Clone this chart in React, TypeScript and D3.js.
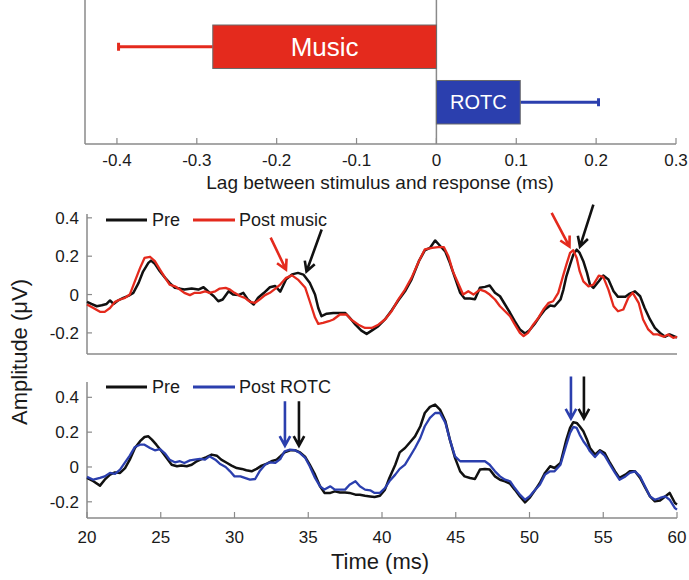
import React from 'react';
import * as d3 from 'd3';

// ---- top panel: lag between stimulus and response ----
const lagGroups = ['Music', 'ROTC'];
const lagMeans = [-0.28, 0.105];
const lagErrEnds = [-0.398, 0.203];
const lagTicks = [-0.4, -0.3, -0.2, -0.1, 0, 0.1, 0.2, 0.3];
const lagTickLabels = ['-0.4', '-0.3', '-0.2', '-0.1', '0', '0.1', '0.2', '0.3'];

// ---- waveform panels, [time ms, amplitude uV] ----
const musicPre: [number, number][] = [
  [20, -0.038], [20.3, -0.049], [20.66, -0.061], [21.0, -0.056], [21.33, -0.049], [21.56, -0.031],
  [21.8, -0.049], [22.1, -0.031], [22.46, -0.017], [22.8, -0.007], [23.14, 0.009], [23.5, 0.061],
  [23.8, 0.12], [24.16, 0.165], [24.34, 0.177], [24.6, 0.16], [24.95, 0.12], [25.3, 0.087],
  [25.6, 0.061], [25.96, 0.035], [26.3, 0.031], [26.6, 0.026], [27.1, 0.031], [27.55, 0.026],
  [27.9, 0.038], [28.2, 0.017], [28.6, -0.009], [28.9, -0.035], [29.2, -0.026], [29.6, 0.017],
  [29.9, 0], [30.26, -0.003], [30.6, 0.009], [30.9, -0.026], [31.3, -0.052], [31.6, -0.017],
  [32.0, 0.009], [32.4, 0.038], [32.75, 0.045], [33.1, 0.015], [33.5, 0.08], [33.9, 0.105],
  [34.3, 0.113], [34.67, 0.104], [35.1, 0.061], [35.46, 0], [35.68, -0.07], [35.9, -0.113],
  [36.25, -0.1], [36.7, -0.096], [37.15, -0.096], [37.5, -0.096], [37.8, -0.12], [38.2, -0.157],
  [38.6, -0.188], [38.96, -0.205], [39.3, -0.188], [39.75, -0.165], [40.2, -0.13], [40.65, -0.083],
  [41.1, -0.031], [41.56, 0.017], [42.0, 0.078], [42.5, 0.174], [42.9, 0.23], [43.25, 0.243],
  [43.6, 0.282], [43.9, 0.257], [44.3, 0.223], [44.6, 0.165], [44.95, 0.087], [45.3, 0.009],
  [45.6, -0.021], [45.97, -0.021], [46.3, -0.025], [46.64, 0.035], [46.98, 0.04], [47.3, 0.047],
  [47.66, 0.009], [48.0, -0.009], [48.34, -0.052], [48.68, -0.095], [49.0, -0.139], [49.35, -0.182],
  [49.7, -0.203], [50.0, -0.186], [50.4, -0.148], [50.7, -0.113], [51.05, -0.078], [51.4, -0.057],
  [51.7, -0.061], [52.1, -0.026], [52.3, 0.026], [52.5, 0.095], [52.75, 0.156], [52.97, 0.208],
  [53.2, 0.234], [53.4, 0.217], [53.65, 0.174], [53.9, 0.113], [54.1, 0.052], [54.33, 0.035],
  [54.7, 0.069], [55.0, 0.099], [55.35, 0.078], [55.7, 0.017], [56.0, -0.012], [56.5, -0.012],
  [56.8, 0.005], [57.15, 0.017], [57.5, -0.009], [57.8, -0.069], [58.17, -0.13], [58.5, -0.174],
  [58.85, -0.2], [59.2, -0.22], [59.5, -0.208], [59.86, -0.22], [60, -0.225],
];

const musicPost: [number, number][] = [
  [20, -0.052], [20.43, -0.07], [20.88, -0.09], [21.2, -0.09], [21.56, -0.07], [21.9, -0.038],
  [22.24, -0.026], [22.58, -0.017], [22.9, 0], [23.25, 0.07], [23.6, 0.139], [23.9, 0.191],
  [24.27, 0.197], [24.6, 0.174], [24.95, 0.13], [25.3, 0.087], [25.6, 0.052], [25.96, 0.043],
  [26.3, 0.026], [26.6, 0.009], [26.98, -0.003], [27.3, 0.009], [27.66, 0.009], [28.0, 0.017],
  [28.3, 0.009], [28.7, 0.017], [29.0, 0.031], [29.4, 0.035], [29.7, 0.026], [30.0, 0.009],
  [30.4, -0.009], [30.7, -0.017], [31.05, -0.038], [31.4, -0.043], [31.7, -0.026], [32.07, -0.003],
  [32.4, 0.009], [32.75, 0.03], [33.1, 0.052], [33.5, 0.087], [33.9, 0.1], [34.3, 0.078],
  [34.8, 0.035], [35.1, -0.035], [35.46, -0.12], [35.68, -0.153], [36.0, -0.148], [36.4, -0.139],
  [36.7, -0.13], [37.15, -0.104], [37.6, -0.104], [37.9, -0.13], [38.4, -0.157], [38.85, -0.174],
  [39.3, -0.174], [39.75, -0.157], [40.2, -0.13], [40.65, -0.087], [41.1, -0.026], [41.56, 0.026],
  [42.0, 0.087], [42.5, 0.174], [42.9, 0.235], [43.4, 0.243], [43.8, 0.247], [44.2, 0.247],
  [44.5, 0.2], [44.8, 0.122], [45.2, 0.052], [45.5, 0], [45.85, 0.017], [46.2, 0],
  [46.64, 0.026], [46.98, 0.017], [47.3, 0], [47.66, -0.026], [48.0, -0.061], [48.34, -0.087],
  [48.68, -0.113], [49.0, -0.156], [49.35, -0.2], [49.6, -0.217], [49.9, -0.2], [50.26, -0.156],
  [50.6, -0.122], [50.94, -0.078], [51.3, -0.043], [51.6, -0.035], [51.95, 0.009], [52.3, 0.104],
  [52.5, 0.156], [52.75, 0.217], [52.97, 0.231], [53.2, 0.191], [53.4, 0.122], [53.65, 0.069],
  [54.0, 0.043], [54.33, 0.052], [54.7, 0.099], [55.0, 0.092], [55.35, 0.026], [55.7, -0.061],
  [56.0, -0.087], [56.36, -0.078], [56.7, -0.017], [57.0, 0.009], [57.4, -0.043], [57.7, -0.13],
  [58.05, -0.182], [58.4, -0.208], [58.7, -0.208], [59.1, -0.22], [59.4, -0.208], [59.75, -0.226],
  [60, -0.22],
];

const rotcPre: [number, number][] = [
  [20, -0.063], [20.43, -0.082], [20.88, -0.107], [21.2, -0.073], [21.56, -0.044], [21.9, -0.031],
  [22.24, -0.034], [22.58, -0.006], [22.9, 0.042], [23.25, 0.109], [23.6, 0.148], [23.9, 0.172],
  [24.16, 0.176], [24.4, 0.157], [24.7, 0.128], [25.06, 0.09], [25.4, 0.052], [25.74, 0.013],
  [26.1, 0.004], [26.4, 0.008], [26.76, 0.004], [27.1, 0.013], [27.44, 0.033], [27.8, 0.046],
  [28.1, 0.057], [28.45, 0.071], [28.8, 0.065], [29.1, 0.042], [29.5, 0.023], [29.8, 0.008],
  [30.15, -0.006], [30.5, -0.011], [30.8, -0.019], [31.16, -0.025], [31.5, -0.011], [31.84, 0.008],
  [32.2, 0.019], [32.5, 0.033], [32.86, 0.042], [33.1, 0.06], [33.4, 0.084], [33.76, 0.096],
  [34.1, 0.096], [34.44, 0.084], [34.8, 0.057], [35.1, 0.013], [35.46, -0.044], [35.8, -0.111],
  [36.1, -0.149], [36.5, -0.149], [36.8, -0.14], [37.15, -0.146], [37.5, -0.146], [37.8, -0.149],
  [38.2, -0.159], [38.5, -0.159], [38.85, -0.165], [39.2, -0.169], [39.5, -0.172], [39.86, -0.165],
  [40.2, -0.13], [40.5, -0.063], [40.9, 0.013], [41.2, 0.084], [41.56, 0.109], [41.9, 0.142],
  [42.24, 0.176], [42.6, 0.234], [42.9, 0.31], [43.25, 0.345], [43.6, 0.358], [43.93, 0.33],
  [44.3, 0.262], [44.6, 0.157], [44.95, 0.052], [45.3, -0.025], [45.6, -0.054], [45.97, -0.063],
  [46.3, -0.069], [46.64, -0.015], [46.98, -0.011], [47.3, -0.015], [47.66, -0.054], [48.0, -0.073],
  [48.34, -0.082], [48.68, -0.096], [49.0, -0.13], [49.35, -0.169], [49.7, -0.203], [50.0, -0.178],
  [50.4, -0.13], [50.7, -0.092], [51.05, -0.034], [51.4, 0.004], [51.7, -0.006], [52.1, 0.023],
  [52.3, 0.09], [52.5, 0.157], [52.75, 0.224], [52.97, 0.257], [53.2, 0.253], [53.4, 0.234],
  [53.65, 0.205], [53.9, 0.157], [54.1, 0.109], [54.44, 0.071], [54.78, 0.096], [55.1, 0.08],
  [55.46, 0.023], [55.8, -0.025], [56.1, -0.063], [56.5, -0.044], [56.8, -0.025], [57.15, -0.025],
  [57.5, -0.063], [57.8, -0.111], [58.17, -0.169], [58.5, -0.197], [58.85, -0.192], [59.2, -0.169],
  [59.5, -0.149], [59.86, -0.207], [60, -0.215],
];

const rotcPost: [number, number][] = [
  [20, -0.057], [20.43, -0.073], [20.88, -0.063], [21.2, -0.054], [21.56, -0.034], [21.9, -0.04],
  [22.24, -0.015], [22.58, 0.027], [22.9, 0.065], [23.25, 0.115], [23.6, 0.128], [23.9, 0.128],
  [24.27, 0.109], [24.6, 0.096], [24.95, 0.103], [25.3, 0.077], [25.6, 0.042], [25.96, 0.027],
  [26.3, 0.033], [26.6, 0.023], [26.98, 0.038], [27.3, 0.042], [27.66, 0.046], [28.0, 0.042],
  [28.3, 0.061], [28.7, 0.042], [29.0, 0.019], [29.4, 0], [29.7, -0.025], [30.0, -0.054],
  [30.4, -0.054], [30.7, -0.063], [31.05, -0.073], [31.4, -0.069], [31.7, -0.025], [32.07, 0.013],
  [32.4, 0.027], [32.75, 0.023], [33.1, 0.045], [33.4, 0.09], [33.76, 0.1], [34.1, 0.096],
  [34.44, 0.08], [34.8, 0.052], [35.1, 0.004], [35.46, -0.063], [35.8, -0.111], [36.1, -0.13],
  [36.5, -0.111], [36.8, -0.13], [37.15, -0.13], [37.5, -0.13], [37.8, -0.102], [38.2, -0.082],
  [38.5, -0.111], [38.85, -0.13], [39.2, -0.134], [39.5, -0.149], [39.86, -0.149], [40.2, -0.121],
  [40.5, -0.082], [40.9, -0.044], [41.2, -0.011], [41.56, 0.013], [41.9, 0.061], [42.24, 0.109],
  [42.6, 0.167], [42.9, 0.234], [43.25, 0.282], [43.6, 0.31], [43.93, 0.31], [44.3, 0.253],
  [44.6, 0.157], [44.95, 0.061], [45.3, 0.033], [45.6, 0.033], [45.97, 0.033], [46.3, 0.033],
  [46.64, 0.033], [46.98, 0.033], [47.3, 0.013], [47.66, -0.025], [48.0, -0.054], [48.34, -0.073],
  [48.68, -0.082], [49.0, -0.121], [49.35, -0.159], [49.7, -0.188], [50.0, -0.169], [50.4, -0.13],
  [50.7, -0.102], [51.05, -0.044], [51.4, -0.025], [51.7, -0.025], [52.1, 0.013], [52.3, 0.071],
  [52.5, 0.128], [52.75, 0.195], [52.97, 0.23], [53.2, 0.224], [53.4, 0.186], [53.65, 0.148],
  [53.9, 0.119], [54.1, 0.09], [54.44, 0.057], [54.78, 0.09], [55.1, 0.065], [55.46, 0.013],
  [55.8, -0.034], [56.1, -0.073], [56.5, -0.054], [56.8, -0.034], [57.15, -0.025], [57.5, -0.054],
  [57.8, -0.107], [58.17, -0.169], [58.5, -0.188], [58.85, -0.178], [59.2, -0.169], [59.5, -0.188],
  [59.86, -0.236], [60, -0.245],
];

const ampTicks = [0.4, 0.2, 0, -0.2];
const ampTickLabels = ['0.4', '0.2', '0', '-0.2'];
const timeTicks = [20, 25, 30, 35, 40, 45, 50, 55, 60];

// arrows in data units: [tailT, tailV, tipT, tipV, colour]
const musicArrows: [number, number, number, number, string][] = [
  [32.45, 0.297, 33.49, 0.13, 'red'],
  [35.91, 0.339, 34.88, 0.12, 'black'],
  [51.5, 0.426, 52.71, 0.25, 'red'],
  [54.33, 0.469, 53.42, 0.25, 'black'],
];
const rotcArrows: [number, number, number, number, string][] = [
  [33.42, 0.377, 33.42, 0.122, 'blue'],
  [34.37, 0.377, 34.37, 0.122, 'black'],
  [52.81, 0.519, 52.81, 0.278, 'blue'],
  [53.69, 0.519, 53.69, 0.278, 'black'],
];

const COLORS: Record<string, string> = {
  red: '#e42a1d',
  blue: '#2b3fae',
  black: '#111111',
};
const AXIS = '#8a8a8a';
const FONT = '"Liberation Sans", Arial, sans-serif';

function Arrow({ x1, y1, x2, y2, color }: { x1: number; y1: number; x2: number; y2: number; color: string }) {
  const a = Math.atan2(y2 - y1, x2 - x1);
  const len = 11;
  const s = 0.5;
  const hx1 = x2 - len * Math.cos(a - s);
  const hy1 = y2 - len * Math.sin(a - s);
  const hx2 = x2 - len * Math.cos(a + s);
  const hy2 = y2 - len * Math.sin(a + s);
  return (
    <path
      d={`M${x1},${y1}L${x2},${y2}M${hx1},${hy1}L${x2},${y2}L${hx2},${hy2}`}
      fill="none"
      stroke={color}
      strokeWidth={2.6}
    />
  );
}

function LagChart() {
  const x = d3.scaleLinear().domain([-0.44, 0.3]).range([85, 676]);
  const y = d3.scaleBand().domain(lagGroups).range([25, 124]).paddingInner(0.216).paddingOuter(0);
  const axisY = 144;
  const fills = [COLORS.red, COLORS.blue];
  const labelSizes = [26, 20];
  return (
    <g>
      <line x1={85} x2={85} y1={0} y2={axisY} stroke={AXIS} strokeWidth={1.5} />
      <line x1={x(0)} x2={x(0)} y1={0} y2={axisY} stroke={AXIS} strokeWidth={1.5} />
      {lagGroups.map((g, i) => {
        const y0 = y(g)!;
        const bw = y.bandwidth();
        const xa = Math.min(x(0), x(lagMeans[i]));
        const xb = Math.max(x(0), x(lagMeans[i]));
        const cy = y0 + bw / 2;
        const xe = x(lagErrEnds[i]);
        return (
          <g key={g}>
            <line x1={x(lagMeans[i])} x2={xe} y1={cy} y2={cy} stroke={fills[i]} strokeWidth={3} />
            <line x1={xe} x2={xe} y1={cy - 4} y2={cy + 4} stroke={fills[i]} strokeWidth={3} />
            <rect x={xa} y={y0} width={xb - xa} height={bw} fill={fills[i]} stroke="#6a6a6a" strokeWidth={1} />
            <text
              x={(xa + xb) / 2}
              y={cy}
              dy="0.36em"
              textAnchor="middle"
              fill="#ffffff"
              fontSize={labelSizes[i]}
            >
              {g}
            </text>
          </g>
        );
      })}
      <line x1={85} x2={676} y1={axisY} y2={axisY} stroke={AXIS} strokeWidth={1.5} />
      {lagTicks.map((t, i) => (
        <g key={t}>
          <line x1={x(t)} x2={x(t)} y1={axisY} y2={axisY - 6} stroke={AXIS} strokeWidth={1.2} />
          <text x={x(t)} y={166} textAnchor="middle" fontSize={17} fill="#1a1a1a">
            {lagTickLabels[i]}
          </text>
        </g>
      ))}
      <text x={380} y={189} textAnchor="middle" fontSize={19} fill="#1a1a1a">
        Lag between stimulus and response (ms)
      </text>
    </g>
  );
}

interface PanelProps {
  top: number;
  bottom: number;
  yDomain: [number, number];
  pre: [number, number][];
  post: [number, number][];
  postColor: string;
  postLabel: string;
  legendY: number;
  arrows: [number, number, number, number, string][];
  showTime: boolean;
}

function WavePanel(p: PanelProps) {
  const x = d3.scaleLinear().domain([20, 60]).range([87, 677]);
  const y = d3.scaleLinear().domain(p.yDomain).range([p.bottom, p.top]);
  const line = d3
    .line<[number, number]>()
    .x((d) => x(d[0]))
    .y((d) => y(d[1]))
    .curve(d3.curveLinear);
  return (
    <g>
      <line x1={87} x2={87} y1={p.top} y2={p.bottom} stroke={AXIS} strokeWidth={1.5} />
      <line x1={87} x2={677} y1={p.bottom} y2={p.bottom} stroke={AXIS} strokeWidth={1.5} />
      {ampTicks.map((t, i) => (
        <g key={t}>
          <line x1={87} x2={92} y1={y(t)} y2={y(t)} stroke={AXIS} strokeWidth={1.2} />
          <text x={79} y={y(t)} dy="0.36em" textAnchor="end" fontSize={17} fill="#1a1a1a">
            {ampTickLabels[i]}
          </text>
        </g>
      ))}
      {p.showTime &&
        timeTicks.map((t) => (
          <g key={t}>
            <line x1={x(t)} x2={x(t)} y1={p.bottom} y2={p.bottom - 6} stroke={AXIS} strokeWidth={1.2} />
            <text x={x(t)} y={p.bottom + 25} textAnchor="middle" fontSize={17} fill="#1a1a1a">
              {t}
            </text>
          </g>
        ))}
      <path d={line(p.pre) ?? ''} fill="none" stroke={COLORS.black} strokeWidth={2.5} strokeLinejoin="round" />
      <path d={line(p.post) ?? ''} fill="none" stroke={p.postColor} strokeWidth={2.3} strokeLinejoin="round" />
      {p.arrows.map((a, i) => (
        <Arrow key={i} x1={x(a[0])} y1={y(a[1])} x2={x(a[2])} y2={y(a[3])} color={COLORS[a[4]]} />
      ))}
      <line x1={106} x2={147} y1={p.legendY} y2={p.legendY} stroke={COLORS.black} strokeWidth={3} />
      <text x={152} y={p.legendY} dy="0.36em" fontSize={18} fill="#1a1a1a">
        Pre
      </text>
      <line x1={193} x2={235} y1={p.legendY} y2={p.legendY} stroke={p.postColor} strokeWidth={3} />
      <text x={239} y={p.legendY} dy="0.36em" fontSize={18} fill="#1a1a1a">
        {p.postLabel}
      </text>
    </g>
  );
}

export default function App() {
  return (
    <svg
      width={689}
      height={580}
      style={{ position: 'absolute', left: 0, top: 0, background: '#ffffff', fontFamily: FONT }}
    >
      <LagChart />
      <WavePanel
        top={214}
        bottom={354}
        yDomain={[-0.31, 0.42]}
        pre={musicPre}
        post={musicPost}
        postColor={COLORS.red}
        postLabel="Post music"
        legendY={220}
        arrows={musicArrows}
        showTime={false}
      />
      <WavePanel
        top={382}
        bottom={518}
        yDomain={[-0.293, 0.488]}
        pre={rotcPre}
        post={rotcPost}
        postColor={COLORS.blue}
        postLabel="Post ROTC"
        legendY={387}
        arrows={rotcArrows}
        showTime={true}
      />
      <text
        transform="translate(27,352) rotate(-90)"
        textAnchor="middle"
        fontSize={22}
        fill="#1a1a1a"
      >
        Amplitude (μV)
      </text>
      <text x={380} y={569} textAnchor="middle" fontSize={22} fill="#1a1a1a">
        Time (ms)
      </text>
    </svg>
  );
}
